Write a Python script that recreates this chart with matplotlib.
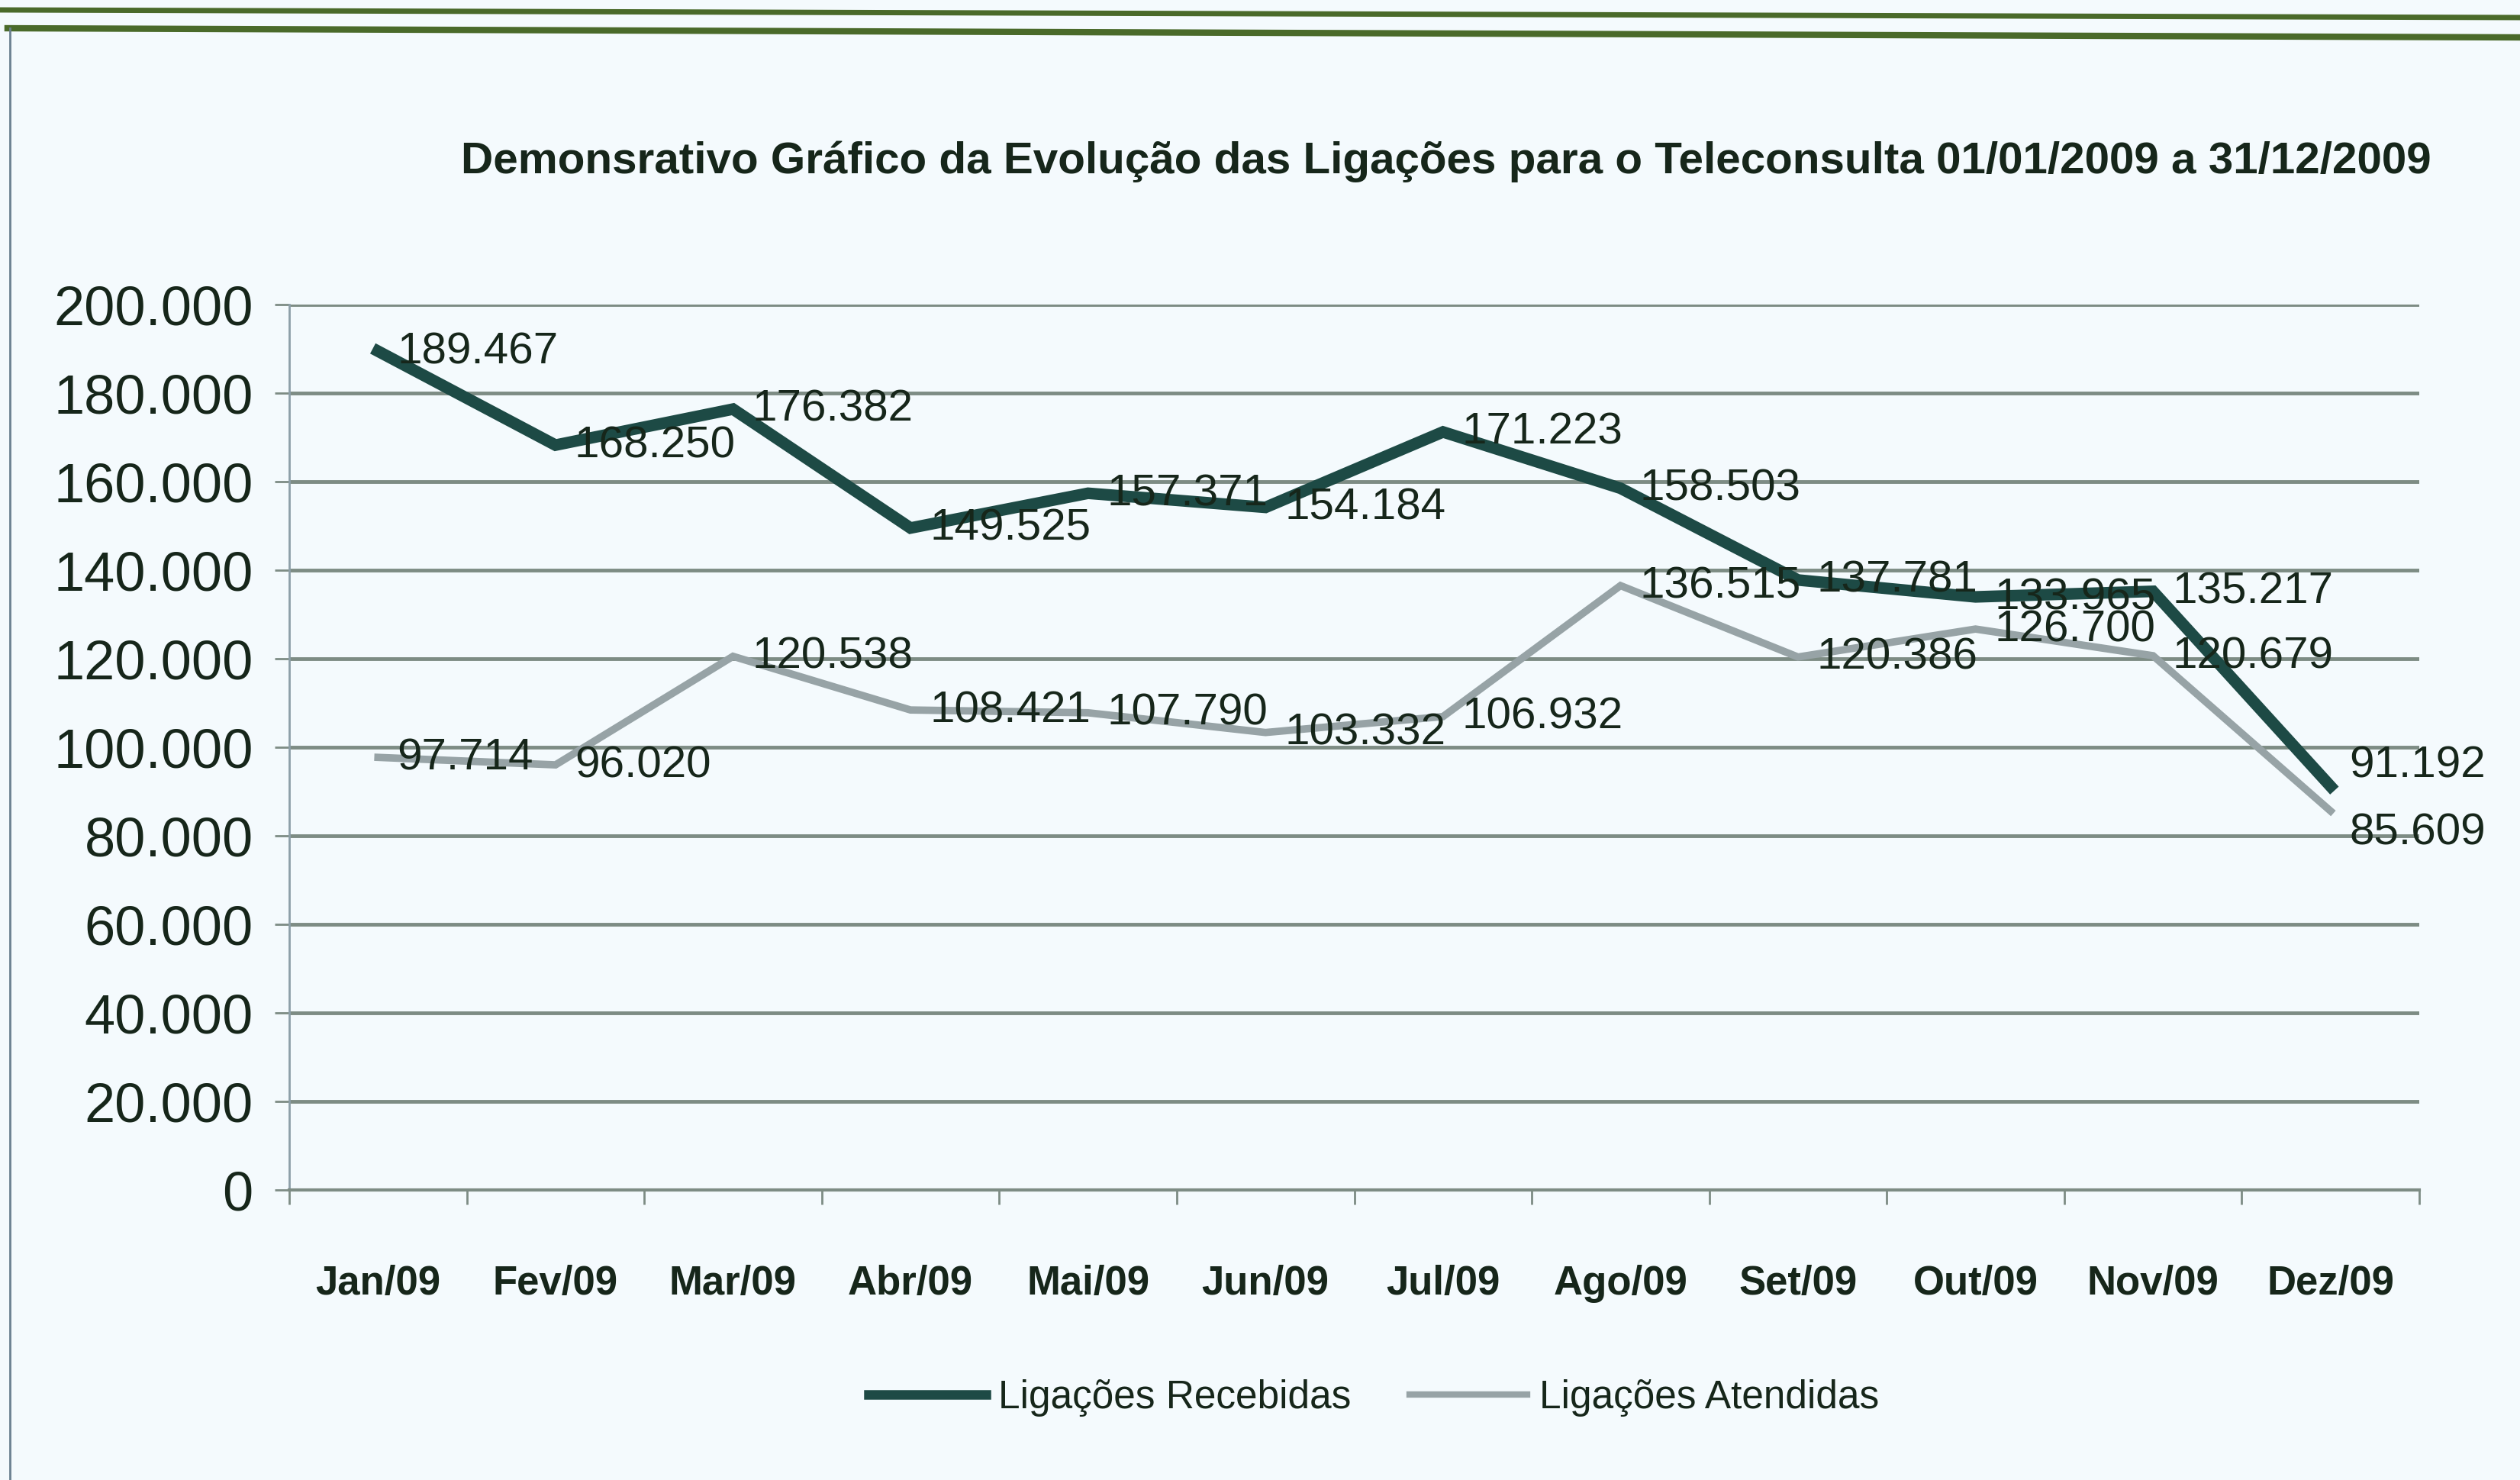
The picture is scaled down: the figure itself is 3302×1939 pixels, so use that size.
import matplotlib
matplotlib.use("Agg")
import matplotlib.pyplot as plt
from matplotlib.ticker import FuncFormatter, FixedLocator
from matplotlib.lines import Line2D

plt.rcParams['font.family'] = ['Liberation Sans', 'DejaVu Sans']

months = ["Jan/09", "Fev/09", "Mar/09", "Abr/09", "Mai/09", "Jun/09",
          "Jul/09", "Ago/09", "Set/09", "Out/09", "Nov/09", "Dez/09"]
recebidas = [189467, 168250, 176382, 149525, 157371, 154184,
             171223, 158503, 137781, 133965, 135217, 91192]
atendidas = [97714, 96020, 120538, 108421, 107790, 103332,
             106932, 136515, 120386, 126700, 120679, 85609]
y_ticks = [0, 20000, 40000, 60000, 80000, 100000, 120000, 140000, 160000, 180000, 200000]
title = "Demonsrativo Gráfico da Evolução das Ligações para o Teleconsulta 01/01/2009 a 31/12/2009"

def br(v):
    return f"{int(v):,}".replace(",", ".")

TXT = "#16261a"
DARK = "#1d4a45"
GREY = "#97a3a6"
BG = "#f4fafd"

fig = plt.figure(figsize=(33.02, 19.40), dpi=100)
fig.patch.set_facecolor(BG)
ax = fig.add_axes([379/3302, 1 - 1560/1940, (3170-379)/3302, (1560-400)/1940])
ax.set_facecolor(BG)

x = list(range(len(months)))
ax.plot(x, atendidas, color=GREY, lw=7, solid_joinstyle='miter', label="Ligações Atendidas", zorder=3)
ax.plot(x, recebidas, color=DARK, lw=11, solid_joinstyle='miter', label="Ligações Recebidas", zorder=4)

last = len(months) - 1
for i, v in enumerate(recebidas):
    dy = 20 if i == last else 0
    ax.annotate(br(v), (i, v), xytext=(18, dy), textcoords='offset points',
                ha='left', va='center', fontsize=42, color=TXT, zorder=5)
for i, v in enumerate(atendidas):
    dy = -20 if i == last else 0
    ax.annotate(br(v), (i, v), xytext=(18, dy), textcoords='offset points',
                ha='left', va='center', fontsize=42, color=TXT, zorder=5)

ax.set_xlim(-0.5, 11.5)
ax.set_ylim(0, 200000)
ax.yaxis.set_major_locator(FixedLocator(y_ticks))
ax.yaxis.set_major_formatter(FuncFormatter(lambda v, p: br(v)))
ax.grid(axis='y', color="#7d8c84", lw=3.5, zorder=1)
ax.set_xticks(x)
ax.set_xticklabels(months, fontsize=38, fontweight='bold', color=TXT)
ax.set_xticks([i - 0.5 for i in range(13)], minor=True)
ax.tick_params(axis='x', which='major', length=0, pad=70)
ax.tick_params(axis='x', which='minor', length=14, width=2, color="#7d8c84")
ax.tick_params(axis='y', length=14, width=2, color="#7d8c84", labelsize=52, labelcolor=TXT, pad=20)
for s in ['top', 'right']:
    ax.spines[s].set_visible(False)
ax.spines['left'].set_color("#8c9fa8")
ax.spines['left'].set_linewidth(2)
ax.spines['bottom'].set_color("#7d8c84")
ax.spines['bottom'].set_linewidth(3)

fig.text(1895/3302, 1 - 212/1940, title, ha='center', va='center', fontsize=42,
         fontweight='bold', color=TXT)

handles = [Line2D([], [], color=DARK, lw=9), Line2D([], [], color=GREY, lw=6)]
fig.legend(handles, ["Ligações Recebidas", "Ligações Atendidas"], loc='center',
           bbox_to_anchor=(1800/3302, 1 - 1832/1940), ncol=2, frameon=False,
           fontsize=37, handlelength=3.0, handletextpad=0.3, columnspacing=1.5,
           labelcolor=TXT)

# frame decoration of the scanned page
fig.add_artist(Line2D([0, 1], [1 - 14/1940, 1 - 24/1940], transform=fig.transFigure, color="#4a6a2a", lw=5))
fig.add_artist(Line2D([0.003, 1], [1 - 38/1940, 1 - 50/1940], transform=fig.transFigure, color="#4a6a2a", lw=6))
fig.add_artist(Line2D([0.004, 0.004], [1 - 38/1940, 0], transform=fig.transFigure, color="#6a8090", lw=2))

fig.savefig("out.png", dpi=100, facecolor=fig.get_facecolor())
